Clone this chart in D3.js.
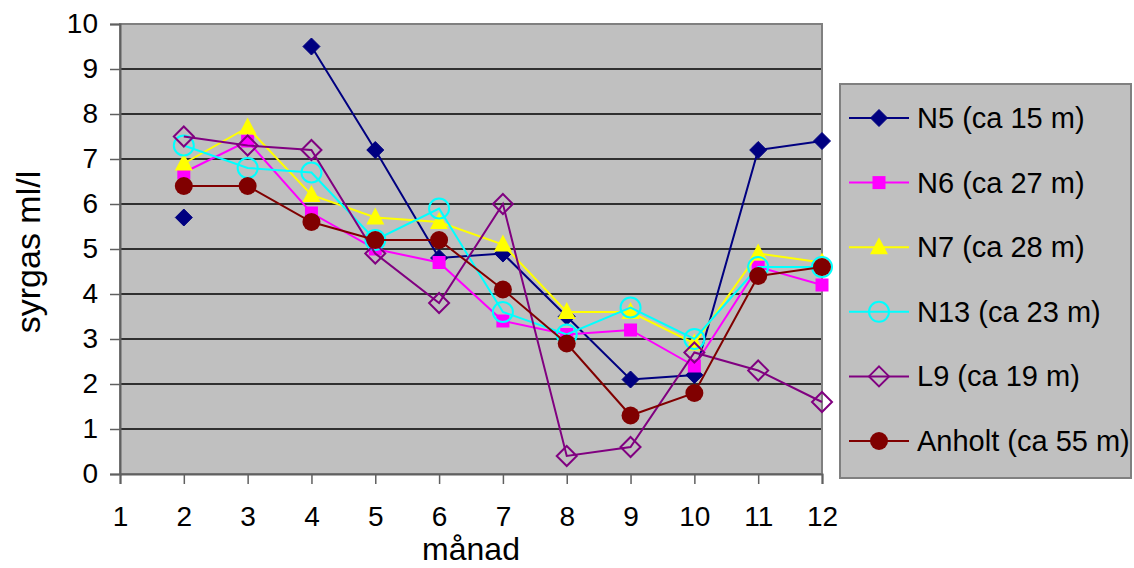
<!DOCTYPE html>
<html>
<head>
<meta charset="utf-8">
<script src="https://cdn.jsdelivr.net/npm/d3@7"></script>
<style>
  body { margin: 0; background: #fff; }
  text { font-family: "Liberation Sans", Arial, sans-serif; fill: #000; }
</style>
</head>
<body>
<script>
// months on the x axis
var months = [2, 3, 4, 5, 6, 7, 8, 9, 10, 11, 12];
var xticks = [1, 2, 3, 4, 5, 6, 7, 8, 9, 10, 11, 12];
var yticks = [0, 1, 2, 3, 4, 5, 6, 7, 8, 9, 10];

// syrgas ml/l per station (null = no sample)
var n5 = [5.7, null, 9.5, 7.2, 4.8, 4.9, 3.5, 2.1, 2.2, 7.2, 7.4];
var n6 = [6.7, 7.4, 5.8, 5.0, 4.7, 3.4, 3.1, 3.2, 2.4, 4.6, 4.2];
var n7 = [6.9, 7.7, 6.2, 5.7, 5.6, 5.1, 3.6, 3.6, 2.9, 4.9, 4.7];
var n13 = [7.3, 6.8, 6.7, 5.2, 5.9, 3.6, 3.1, 3.7, 3.0, 4.6, 4.6];
var l9 = [7.5, 7.3, 7.2, 4.9, 3.8, 6.0, 0.4, 0.6, 2.7, 2.3, 1.6];
var anholt = [6.4, 6.4, 5.6, 5.2, 5.2, 4.1, 2.9, 1.3, 1.8, 4.4, 4.6];

var seriesNames = ["N5 (ca 15 m)", "N6 (ca 27 m)", "N7 (ca 28 m)", "N13 (ca 23 m)", "L9 (ca 19 m)", "Anholt (ca 55 m)"];
var seriesValues = [n5, n6, n7, n13, l9, anholt];
var seriesColors = ["#000080", "#ff00ff", "#ffff00", "#00ffff", "#800080", "#800000"];
var seriesMarkers = ["diamond", "square", "triangle", "circleOpen", "diamondOpen", "circle"];

var w = 1134;
var h = 568;
var plot = {left: 120, right: 822, top: 24, bottom: 474};

var svg = d3.select("body")
    .append("svg")
    .attr("width", w)
    .attr("height", h);

var xScale = d3.scaleLinear()
    .domain([1, 12])
    .range([plot.left, plot.right]);

var yScale = d3.scaleLinear()
    .domain([0, 10])
    .range([plot.bottom, plot.top]);

// plot background
svg.append("rect")
    .attr("x", plot.left)
    .attr("y", plot.top)
    .attr("width", plot.right - plot.left)
    .attr("height", plot.bottom - plot.top)
    .attr("fill", "#c0c0c0");

// grid lines
svg.append("g")
    .selectAll("line")
    .data(yticks.filter(d => d > 0 && d < 10))
    .join("line")
    .attr("x1", plot.left)
    .attr("x2", plot.right)
    .attr("y1", d => yScale(d))
    .attr("y2", d => yScale(d))
    .attr("stroke", "#000")
    .attr("stroke-width", 1.3);

// frame
svg.append("rect")
    .attr("x", plot.left)
    .attr("y", plot.top)
    .attr("width", plot.right - plot.left)
    .attr("height", plot.bottom - plot.top)
    .attr("fill", "none")
    .attr("stroke", "#808080")
    .attr("stroke-width", 2);

var yAxis = d3.axisLeft(yScale).tickValues(yticks).tickSize(10).tickPadding(12);
var xAxis = d3.axisBottom(xScale).tickValues(xticks).tickSize(10).tickPadding(22);

var gy = svg.append("g")
    .attr("transform", "translate(" + plot.left + ",0)")
    .call(yAxis);
var gx = svg.append("g")
    .attr("transform", "translate(0," + plot.bottom + ")")
    .call(xAxis);

[gx, gy].forEach(function (g) {
    g.select(".domain").attr("stroke", "#606060").attr("stroke-width", 2);
    g.selectAll(".tick line").attr("stroke", "#606060").attr("stroke-width", 1.5);
    g.selectAll(".tick text")
        .attr("font-family", "Liberation Sans, Arial, sans-serif")
        .attr("font-size", "28px")
        .attr("fill", "#000");
});

// axis titles
svg.append("text")
    .attr("x", (plot.left + plot.right) / 2)
    .attr("y", 560)
    .attr("text-anchor", "middle")
    .attr("font-size", "32px")
    .text("månad");

svg.append("text")
    .attr("transform", "translate(40," + 252 + ") rotate(-90)")
    .attr("text-anchor", "middle")
    .attr("font-size", "34px")
    .text("syrgas ml/l");

function drawMarker(g, type, color) {
    if (type == "diamond" || type == "diamondOpen") {
        var s = type == "diamond" ? 8.5 : 10;
        g.append("path")
            .attr("d", "M0," + (-s) + "L" + s + ",0L0," + s + "L" + (-s) + ",0Z")
            .attr("fill", type == "diamond" ? color : "none")
            .attr("stroke", color)
            .attr("stroke-width", type == "diamond" ? 1 : 2);
    } else if (type == "square") {
        g.append("rect")
            .attr("x", -6.5).attr("y", -6.5)
            .attr("width", 13).attr("height", 13)
            .attr("fill", color);
    } else if (type == "triangle") {
        g.append("path")
            .attr("d", "M0,-10L9,7L-9,7Z")
            .attr("fill", color);
    } else if (type == "circleOpen") {
        g.append("circle")
            .attr("r", 10)
            .attr("fill", "none")
            .attr("stroke", color)
            .attr("stroke-width", 2);
    } else {
        g.append("circle")
            .attr("r", 9)
            .attr("fill", color);
    }
}

var line = d3.line()
    .defined(d => d.v != null)
    .x(d => xScale(d.m))
    .y(d => yScale(d.v));

seriesValues.forEach(function (vals, i) {
    var pts = months.map((m, j) => ({m: m, v: vals[j]}));
    var g = svg.append("g").attr("class", "series");
    g.append("path")
        .datum(pts)
        .attr("d", line)
        .attr("fill", "none")
        .attr("stroke", seriesColors[i])
        .attr("stroke-width", 2);
    pts.filter(d => d.v != null).forEach(function (d) {
        var mg = g.append("g")
            .attr("transform", "translate(" + xScale(d.m) + "," + yScale(d.v) + ")");
        drawMarker(mg, seriesMarkers[i], seriesColors[i]);
    });
});

// legend
var legend = svg.append("g");
legend.append("rect")
    .attr("x", 840)
    .attr("y", 84)
    .attr("width", 291)
    .attr("height", 394)
    .attr("fill", "#c0c0c0")
    .attr("stroke", "#808080")
    .attr("stroke-width", 2);

seriesNames.forEach(function (name, i) {
    var cy = 118 + i * 64.6;
    legend.append("line")
        .attr("x1", 849).attr("x2", 909)
        .attr("y1", cy).attr("y2", cy)
        .attr("stroke", seriesColors[i])
        .attr("stroke-width", 2);
    var mg = legend.append("g").attr("transform", "translate(879," + cy + ")");
    drawMarker(mg, seriesMarkers[i], seriesColors[i]);
    legend.append("text")
        .attr("x", 917)
        .attr("y", cy + 10)
        .attr("font-size", "29px")
        .text(name);
});
</script>
</body>
</html>
